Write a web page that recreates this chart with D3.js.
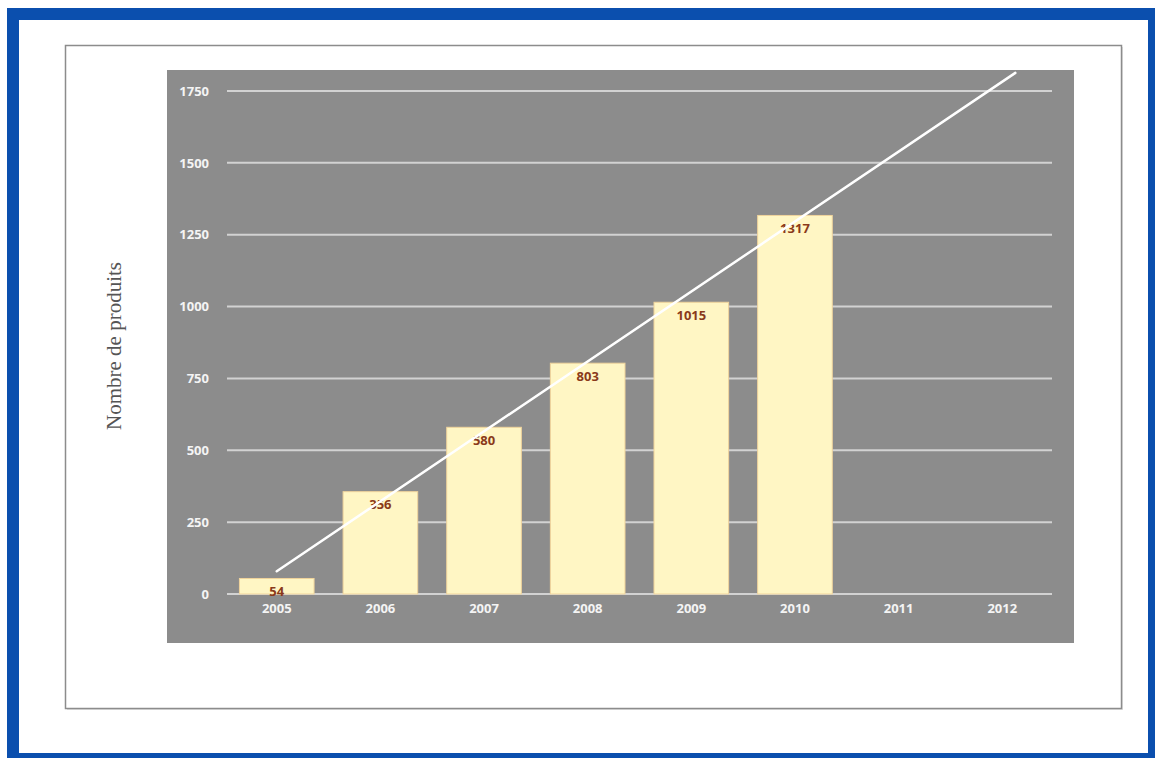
<!DOCTYPE html>
<html><head><meta charset="utf-8">
<script src="https://cdn.jsdelivr.net/npm/d3@7"></script>
<style>html,body{margin:0;padding:0;background:#fff;}svg{display:block;}</style>
</head><body>
<svg id="c" width="1155" height="758"></svg>
<script>
const years = ["2005","2006","2007","2008","2009","2010","2011","2012"];
const values = [54, 356, 580, 803, 1015, 1317, null, null];
const yTicks = [0, 250, 500, 750, 1000, 1250, 1500, 1750];
const yTitle = "Nombre de produits";
const yMax = 1813;

const svg = d3.select("#c");
// blue outer frame
svg.append("rect").attr("x",7).attr("y",8).attr("width",1160).attr("height",760).attr("fill","#0b4fae");
svg.append("rect").attr("x",19).attr("y",20).attr("width",1129).attr("height",733).attr("fill","#ffffff");
// inner picture frame
svg.append("rect").attr("x",67).attr("y",47).attr("width",1056).attr("height",663).attr("fill","#e0e0e0");
svg.append("rect").attr("x",65.5).attr("y",45.5).attr("width",1056).attr("height",663)
  .attr("fill","#ffffff").attr("stroke","#8c8c8c").attr("stroke-width",1.5);
// plot background
svg.append("rect").attr("x",167).attr("y",70).attr("width",907).attr("height",573).attr("fill","#8c8c8c");

const x = d3.scaleBand().domain(years).range([227,1052]).paddingInner(0.28).paddingOuter(0.12);
const y = d3.scaleLinear().domain([0,1750]).range([594,91]);
const xi = d3.scaleLinear().domain([0, years.length-1]).range([x(years[0])+x.bandwidth()/2, x(years[years.length-1])+x.bandwidth()/2]);

// grid
svg.append("g").selectAll("line").data(yTicks).join("line")
  .attr("x1",227).attr("x2",1052).attr("y1",d=>y(d)).attr("y2",d=>y(d))
  .attr("stroke","#d2d2d2").attr("stroke-width",2);

// y axis labels
const yAxis = svg.append("g").attr("transform","translate(209,0)")
  .call(d3.axisLeft(y).tickValues(yTicks).tickSize(0).tickPadding(0).tickFormat(d3.format("d")));
yAxis.select(".domain").remove();
yAxis.selectAll("text").attr("fill","#f4f4f4").attr("font-family","'Open Sans', sans-serif")
  .attr("font-size","13px").attr("font-weight","bold");

// x axis labels
const xAxis = svg.append("g").attr("transform","translate(0,604)")
  .call(d3.axisBottom(x).tickSize(0).tickPadding(0));
xAxis.select(".domain").remove();
xAxis.selectAll("text").attr("fill","#f4f4f4").attr("font-family","'Open Sans', sans-serif")
  .attr("font-size","13px").attr("font-weight","bold").attr("dy","0.71em");

// bars
const data = years.map((yr,i)=>({yr, v: values[i]})).filter(d=>d.v!=null);
svg.append("g").selectAll("rect").data(data).join("rect")
  .attr("x",d=>x(d.yr)).attr("width",x.bandwidth())
  .attr("y",d=>y(d.v)).attr("height",d=>y(0)-y(d.v))
  .attr("fill","#fff6c4").attr("stroke","#f0d49c").attr("stroke-width",1);

// value labels
svg.append("g").selectAll("text").data(data).join("text")
  .attr("x",d=>x(d.yr)+x.bandwidth()/2).attr("y",d=>y(d.v)+13).attr("dy","0.35em")
  .attr("text-anchor","middle").attr("fill","#8a3a1a")
  .attr("font-family","'Open Sans', sans-serif").attr("font-size","13px").attr("font-weight","bold")
  .text(d=>d.v);

// linear trend line (least squares)
const pts = data.map(d=>[years.indexOf(d.yr), d.v]);
const mx = d3.mean(pts,p=>p[0]), my = d3.mean(pts,p=>p[1]);
const slope = d3.sum(pts,p=>(p[0]-mx)*(p[1]-my)) / d3.sum(pts,p=>(p[0]-mx)**2);
const icpt = my - slope*mx;
const xEnd = (yMax - icpt)/slope;
const xs = d3.scaleLinear().domain([0,1]).range([xi(0), xi(1)]);
svg.append("line")
  .attr("x1",xs(0)).attr("y1",y(icpt))
  .attr("x2",xs(xEnd)).attr("y2",y(yMax))
  .attr("stroke","#ffffff").attr("stroke-width",2.5).attr("stroke-linecap","round");

// y title
svg.append("text").attr("transform","translate(121,346) rotate(-90)")
  .attr("text-anchor","middle").attr("fill","#555")
  .attr("font-family","'Liberation Serif', 'Times New Roman', serif").attr("font-size","21px")
  .text(yTitle);
</script>
</body></html>
